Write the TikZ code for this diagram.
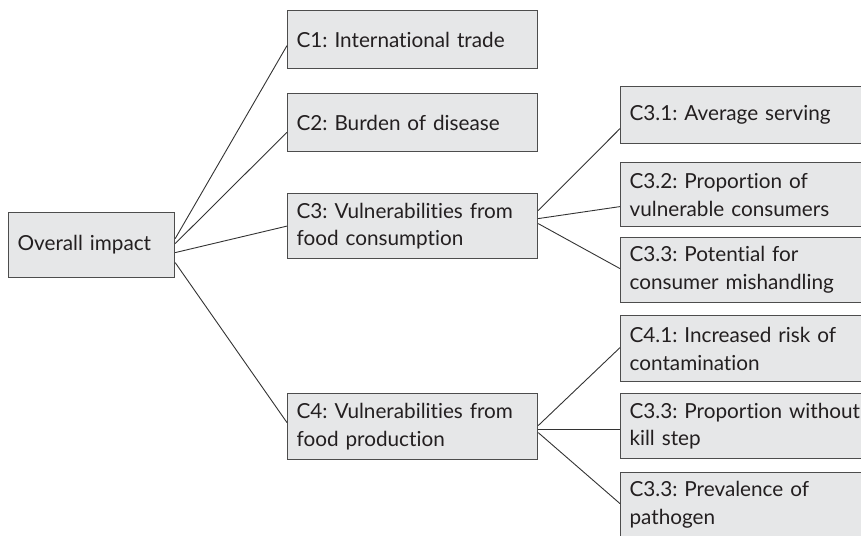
\documentclass[tikz,border=0pt]{standalone}
\usepackage{fontspec}
\setmainfont{Lato}[Ligatures=NoCommon]
\frenchspacing
\definecolor{boxfill}{HTML}{E6E7E8}
\definecolor{boxline}{HTML}{4D4D4D}
\definecolor{textcol}{HTML}{231F20}
\definecolor{linkcol}{HTML}{333333}
\begin{document}
\begin{tikzpicture}[x=1bp,y=-1bp,
  box/.style={draw=boxline, fill=boxfill, line width=1.2bp, anchor=north west,
    inner xsep=9bp, inner ysep=0pt, align=left, text=textcol,
    font=\fontsize{20.8}{28}\selectfont},
  link/.style={draw=linkcol, line width=0.9bp}]
\useasboundingbox (0,0) rectangle (861,536);
\clip (0,0) rectangle (861,536);

% root
\node[box, minimum width=166bp, minimum height=65bp, text width=148bp] (top) at (8,212) {Overall impact};

% first level
\node[box, minimum width=250bp, minimum height=58bp, text width=232bp] (c1) at (287,10) {C1: International trade};
\node[box, minimum width=250bp, minimum height=58bp, text width=232bp] (c2) at (287,93) {C2: Burden of disease};
\node[box, minimum width=250bp, minimum height=65bp, text width=232bp] (c3) at (287,193) {C3: Vulnerabilities from\\food consumption};
\node[box, minimum width=250bp, minimum height=66bp, text width=232bp] (c4) at (287,393) {C4: Vulnerabilities from\\food production};

% second level
\node[box, minimum width=260bp, minimum height=57bp, text width=242bp] (c31) at (620,86) {C3.1: Average serving};
\node[box, minimum width=260bp, minimum height=64bp, text width=242bp] (c32) at (620,162) {C3.2: Proportion of\\vulnerable consumers};
\node[box, minimum width=260bp, minimum height=65bp, text width=242bp] (c33) at (620,237) {C3.3: Potential for\\consumer mishandling};
\node[box, minimum width=260bp, minimum height=66bp, text width=242bp] (c41) at (620,315) {C4.1: Increased risk of\\contamination};
\node[box, minimum width=260bp, minimum height=65bp, text width=242bp] (c42) at (620,393) {C3.3: Proportion without\\kill step};
\node[box, minimum width=260bp, minimum height=65bp, text width=242bp] (c43) at (620,472) {C3.3: Prevalence of\\pathogen};

% connectors
\draw[link] ([yshift=6.5bp]top.east) -- ([yshift=-6bp]c1.west);
\draw[link] ([yshift=1.5bp]top.east) -- ([yshift=-9.7bp]c2.west);
\draw[link] ([yshift=-7.5bp]top.east) -- (c3.west);
\draw[link] ([yshift=-17.5bp]top.east) -- ([yshift=4bp]c4.west);

\draw[link] ([yshift=15.5bp]c3.east) -- ([yshift=-13.5bp]c31.west);
\draw[link] ([yshift=7.5bp]c3.east) -- ([yshift=-12bp]c32.west);
\draw[link] ([yshift=2.5bp]c3.east) -- ([yshift=1.5bp]c33.west);

\draw[link] ([yshift=1bp]c4.east) -- ([yshift=1bp]c41.west);
\draw[link] ([yshift=-3bp]c4.east) -- ([yshift=-3.5bp]c42.west);
\draw[link] ([yshift=-6bp]c4.east) -- ([yshift=1.5bp]c43.west);
\end{tikzpicture}
\end{document}
